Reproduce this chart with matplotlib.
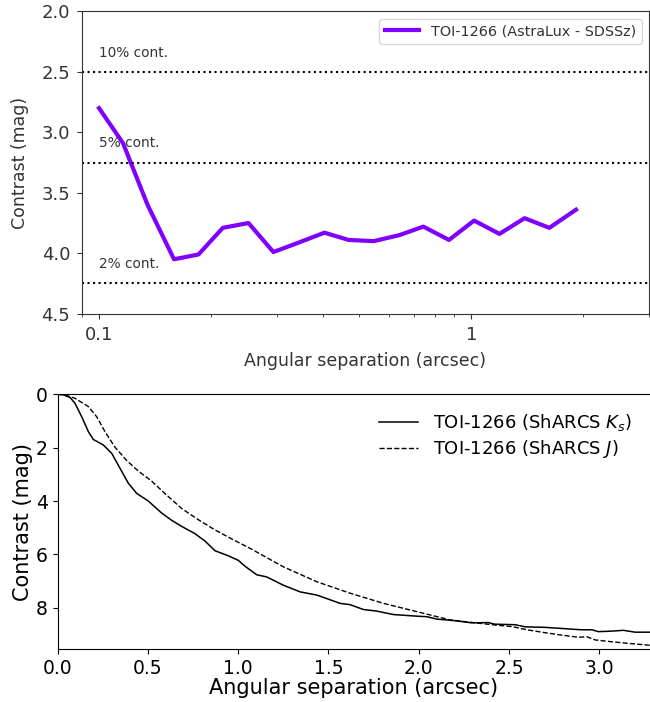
import numpy as np
import matplotlib
matplotlib.use("Agg")
import matplotlib.pyplot as plt

# AstraLux SDSSz contrast curve (top panel)
astra_sep = [0.1, 0.116, 0.135, 0.159, 0.185, 0.215, 0.252, 0.294, 0.345, 0.403,
             0.468, 0.547, 0.641, 0.743, 0.871, 1.017, 1.19, 1.39, 1.62, 1.91]
astra_con = [2.80, 3.09, 3.60, 4.05, 4.01, 3.79, 3.75, 3.99, 3.91, 3.83,
             3.89, 3.90, 3.85, 3.78, 3.89, 3.73, 3.84, 3.71, 3.79, 3.64]

# contamination levels
cont_mag = [2.5, 3.25, 4.25]
cont_lbl = ["10% cont.", "5% cont.", "2% cont."]

# ShARCS Ks (solid)
ks_sep = [0.0, 0.032, 0.07, 0.097, 0.134, 0.171, 0.198, 0.254, 0.30, 0.346, 0.392,
          0.438, 0.503, 0.577, 0.632, 0.688, 0.761, 0.817, 0.872, 0.946, 1.001,
          1.04, 1.103, 1.158, 1.25, 1.343, 1.435, 1.49, 1.564, 1.62, 1.693,
          1.767, 1.86, 1.989, 2.044, 2.10, 2.20, 2.293, 2.385, 2.42, 2.533,
          2.589, 2.70, 2.79, 2.90, 2.958, 2.994, 3.069, 3.133, 3.198, 3.28]
ks_con = [0.0, 0.02, 0.12, 0.34, 0.84, 1.40, 1.69, 1.90, 2.21, 2.77, 3.33,
          3.71, 4.0, 4.45, 4.72, 4.95, 5.22, 5.50, 5.86, 6.05, 6.22,
          6.45, 6.76, 6.84, 7.15, 7.40, 7.52, 7.65, 7.83, 7.88, 8.06,
          8.12, 8.25, 8.31, 8.33, 8.42, 8.48, 8.56, 8.55, 8.61, 8.63,
          8.71, 8.73, 8.77, 8.82, 8.82, 8.89, 8.87, 8.84, 8.91, 8.91]

# ShARCS J (dashed)
j_sep = [0.0, 0.04, 0.097, 0.171, 0.217, 0.263, 0.318, 0.383, 0.448, 0.521, 0.595,
         0.688, 0.78, 0.872, 0.965, 1.066, 1.25, 1.435, 1.62, 1.804, 1.989,
         2.173, 2.30, 2.42, 2.515, 2.607, 2.70, 2.79, 2.884, 2.93, 2.976,
         3.069, 3.16, 3.28]
j_con = [0.0, 0.02, 0.15, 0.46, 0.84, 1.40, 1.98, 2.48, 2.88, 3.25, 3.72,
         4.28, 4.70, 5.08, 5.42, 5.77, 6.46, 7.02, 7.45, 7.83, 8.14,
         8.45, 8.55, 8.64, 8.70, 8.83, 8.93, 9.02, 9.10, 9.08, 9.20,
         9.27, 9.33, 9.40]

fig = plt.figure(figsize=(6.5, 7.02), dpi=100)

# ---- top panel ----
gray = "#333333"
ax1 = fig.add_axes([82/650, 1 - 313.7/702, (649 - 82)/650, (313.7 - 11.4)/702])
ax1.plot(astra_sep, astra_con, color="#7f00ff", lw=3, label="TOI-1266 (AstraLux - SDSSz)")
for m, t in zip(cont_mag, cont_lbl):
    ax1.axhline(m, color="black", ls=":", lw=1.5)
    ax1.text(0.1, m - 0.16, t, color=gray, fontsize=9.8, va="center", ha="left")
ax1.set_xscale("log")
ax1.set_xlim(0.09, 3.0)
ax1.set_ylim(4.5, 2.0)
ax1.set_yticks([2.0, 2.5, 3.0, 3.5, 4.0, 4.5])
ax1.set_yticklabels(["2.0", "2.5", "3.0", "3.5", "4.0", "4.5"])
ax1.set_xticks([0.1, 1])
ax1.set_xticklabels(["0.1", "1"])
ax1.tick_params(colors=gray, labelcolor=gray, labelsize=13, pad=5)
ax1.tick_params(which="minor", colors=gray)
for s in ax1.spines.values():
    s.set_color(gray)
ax1.set_xlabel("Angular separation (arcsec)", color=gray, fontsize=12.5, labelpad=6)
ax1.set_ylabel("Contrast (mag)", color=gray, fontsize=12.5, labelpad=9)
leg = ax1.legend(loc="upper right", fontsize=10.4, handlelength=2.4,
                 borderaxespad=0.5)
for t in leg.get_texts():
    t.set_color(gray)

# ---- bottom panel ----
ax2 = fig.add_axes([57.5/650, 1 - 649/702, 1 - 57.5/650, (649 - 394.3)/702])
ax2.plot(ks_sep, ks_con, color="black", lw=1.1, label="TOI-1266 (ShARCS $K_s$)")
ax2.plot(j_sep, j_con, color="black", lw=1.0, ls="--", label="TOI-1266 (ShARCS $J$)")
ax2.set_xlim(0, 3.28)
ax2.set_ylim(9.54, 0)
ax2.set_yticks([0, 2, 4, 6, 8])
ax2.set_xticks([0.0, 0.5, 1.0, 1.5, 2.0, 2.5, 3.0])
ax2.tick_params(labelsize=13.5)
ax2.spines["right"].set_visible(False)
ax2.set_xlabel("Angular separation (arcsec)", fontsize=15, labelpad=0)
ax2.set_ylabel("Contrast (mag)", fontsize=15, labelpad=2)
ax2.legend(loc="upper right", fontsize=13, frameon=False, handlelength=2.2,
           labelspacing=0.25, borderaxespad=0.6)

fig.savefig("out.png", dpi=100)
